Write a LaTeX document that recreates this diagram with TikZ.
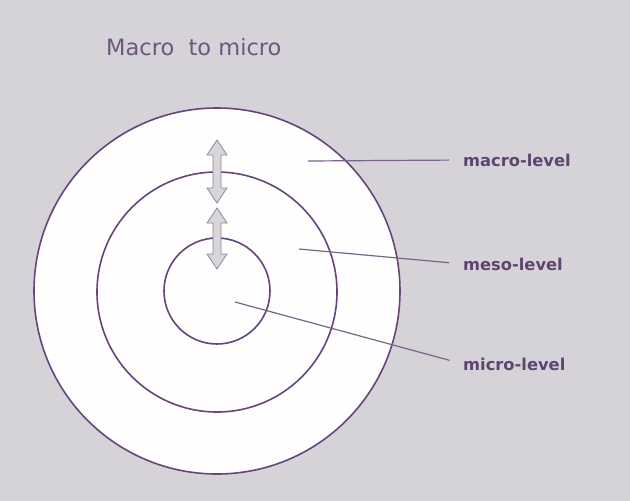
\documentclass[tikz,border=0pt]{standalone}
\usepackage{fontspec}
\setmainfont{DejaVu Sans}
\usetikzlibrary{calc}
\definecolor{bgrey}{HTML}{D6D3D8}
\definecolor{ring}{HTML}{65457A}
\definecolor{leader}{HTML}{7A6488}
\definecolor{lbltext}{HTML}{5E4470}
\definecolor{arrfill}{HTML}{D9D6DB}
\definecolor{arrline}{HTML}{8E8496}
\tikzset{
  levring/.style={draw=ring, line width=1.6pt, fill=white!98!bgrey},
  levarrow/.style={draw=arrline, fill=arrfill, line width=0.8pt, line join=miter},
  levlabel/.style={text=lbltext, font=\fontsize{16.3}{19}\selectfont\bfseries, anchor=west, inner sep=0pt},
  leadline/.style={draw=leader, line width=1.2pt, shorten >=14pt}
}
% vertical double arrow: (x : top : bottom)
\def\dblarrow(#1:#2:#3){\draw[levarrow] (#1,-#2) -- (#1+10,-#2-15) -- (#1+4,-#2-15) -- (#1+4,-#3+15) -- (#1+10,-#3+15) -- (#1,-#3) -- (#1-10,-#3+15) -- (#1-4,-#3+15) -- (#1-4,-#2-15) -- (#1-10,-#2-15) -- cycle;}

\begin{document}
\begin{tikzpicture}[x=1pt, y=1pt]
			%%%%% START %%%%%
			
			\fill[bgrey] (0,0) rectangle (630,-501);
			\useasboundingbox (0,0) rectangle (630,-501);
			
			\node[text=lbltext!90!white, font=\fontsize{22.5}{26}\selectfont, anchor=west, inner sep=0pt] (title) at (106,-47) {Macro\ \ to micro};
			
			\draw[levring] (217,-291) circle (183);
			\draw[levring] (217,-292) circle (120);
			\draw[levring] (217,-291) circle (53);
			
			\dblarrow(217:140:203)
			\dblarrow(217:208:269)
			
			\coordinate (macroin) at (308,-161);
			\coordinate (mesoin) at (299,-249);
			\coordinate (microin) at (235,-302);
			
			\node[levlabel] (macro) at (463,-160) {macro-level};
			\node[levlabel] (meso) at (463,-264) {meso-level};
			\node[levlabel] (micro) at (463,-364) {micro-level};
			
			\draw[leadline] (macroin) -- (macro.west);
			\draw[leadline] (mesoin) -- (meso.west);
			\draw[leadline] (microin) -- (micro.west);
			
			%%%%% END %%%%%
\end{tikzpicture}
\end{document}
